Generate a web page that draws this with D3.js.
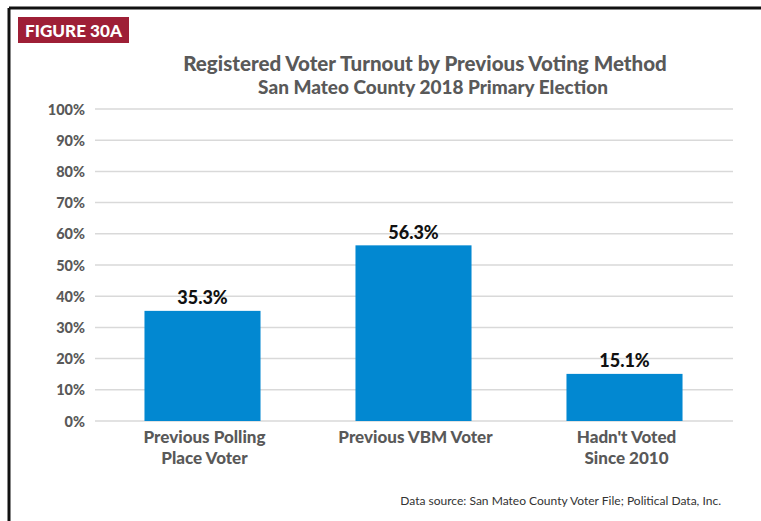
<!DOCTYPE html>
<html>
<head>
<meta charset="utf-8">
<script src="https://cdn.jsdelivr.net/npm/d3@7"></script>
<style>
  html, body { margin: 0; padding: 0; background: #fff; }
  svg { display: block; font-family: Lato, "Open Sans", sans-serif; }
</style>
</head>
<body>
<svg id="chart" width="761" height="521"></svg>
<script>
// ---- Data ----
const categories = [["Previous Polling", "Place Voter"], ["Previous VBM Voter"], ["Hadn't Voted", "Since 2010"]];
const values = [35.3, 56.3, 15.1];
const valueLabels = ["35.3%", "56.3%", "15.1%"];
const yTicks = [0, 10, 20, 30, 40, 50, 60, 70, 80, 90, 100];
const figureLabel = "FIGURE 30A";
const title = "Registered Voter Turnout by Previous Voting Method";
const subtitle = "San Mateo County 2018 Primary Election";
const source = "Data source: San Mateo County Voter File; Political Data, Inc.";

// ---- Layout ----
const svg = d3.select("#chart");
const textColor = "#595959";
const barColor = "#0288D1";

function fitText(sel, targetWidth) {
  const node = sel.node();
  const fs = parseFloat(sel.attr("font-size"));
  const w = node.getComputedTextLength();
  if (w > 0) sel.attr("font-size", (fs * targetWidth / w).toFixed(2));
}

// Frame (left and top border)
svg.append("line").attr("x1", 9).attr("x2", 761).attr("y1", 8).attr("y2", 8)
  .attr("stroke", "#111").attr("stroke-width", 3);
svg.append("line").attr("x1", 9).attr("x2", 9).attr("y1", 8).attr("y2", 521)
  .attr("stroke", "#111").attr("stroke-width", 3);

// Figure label
svg.append("rect").attr("x", 18).attr("y", 17).attr("width", 111).attr("height", 26).attr("fill", "#9E1F36");
const fl = svg.append("text").attr("x", 73.5).attr("y", 37).attr("text-anchor", "middle")
  .attr("fill", "#fff").attr("font-weight", 900).attr("font-size", 18).text(figureLabel);
fitText(fl, 97);

const t1 = svg.append("text").attr("x", 425).attr("y", 71).attr("text-anchor", "middle")
  .attr("fill", textColor).attr("font-weight", 900).attr("font-size", 20).text(title);
fitText(t1, 484);
const t2 = svg.append("text").attr("x", 433).attr("y", 94).attr("text-anchor", "middle")
  .attr("fill", textColor).attr("font-weight", 900).attr("font-size", 16).text(subtitle);
fitText(t2, 350);

// Scales
const plotLeft = 95, plotRight = 733;
const y = d3.scaleLinear().domain([0, 100]).range([421, 109]);
const x = d3.scaleBand().domain(d3.range(values.length)).range([97, 730])
  .paddingInner(0.45).paddingOuter(0.225);

// Gridlines
svg.append("g").selectAll("line").data(yTicks).join("line")
  .attr("x1", plotLeft).attr("x2", plotRight)
  .attr("y1", d => y(d)).attr("y2", d => y(d))
  .attr("stroke", "#d9d9d9").attr("stroke-width", 1.5);

// Y axis labels
const yAxis = d3.axisLeft(y).tickValues(yTicks).tickFormat(d => d + "%").tickSize(0).tickPadding(0);
const yg = svg.append("g").attr("transform", "translate(85,0)").call(yAxis);
yg.select(".domain").remove();
yg.selectAll("text").attr("fill", textColor).attr("font-weight", 900)
  .attr("font-size", 14.5).attr("font-family", "Lato, 'Open Sans', sans-serif").attr("dy", "0.35em");

// Bars
svg.append("g").selectAll("rect").data(values).join("rect")
  .attr("x", (d, i) => x(i)).attr("width", x.bandwidth())
  .attr("y", d => y(d)).attr("height", d => y(0) - y(d))
  .attr("fill", barColor);

// Value labels
svg.append("g").selectAll("text").data(values).join("text")
  .attr("x", (d, i) => x(i) + x.bandwidth() / 2)
  .attr("y", d => y(d) - 6.5)
  .attr("text-anchor", "middle").attr("fill", "#111").attr("font-weight", 900)
  .attr("font-size", 18).text((d, i) => valueLabels[i]);

// Category labels
const cg = svg.append("g").selectAll("text").data(categories).join("text")
  .attr("text-anchor", "middle").attr("fill", textColor).attr("font-weight", 900).attr("font-size", 17)
  .attr("transform", (d, i) => `translate(${x(i) + x.bandwidth() / 2 + 2},443)`);
cg.selectAll("tspan").data(d => d).join("tspan")
  .attr("x", 0).attr("y", (d, i) => i * 21).text(d => d);

// Source
const src = svg.append("text").attr("x", 721).attr("y", 505).attr("text-anchor", "end")
  .attr("fill", "#333").attr("font-size", 12).text(source);
fitText(src, 321);
</script>
</body>
</html>
